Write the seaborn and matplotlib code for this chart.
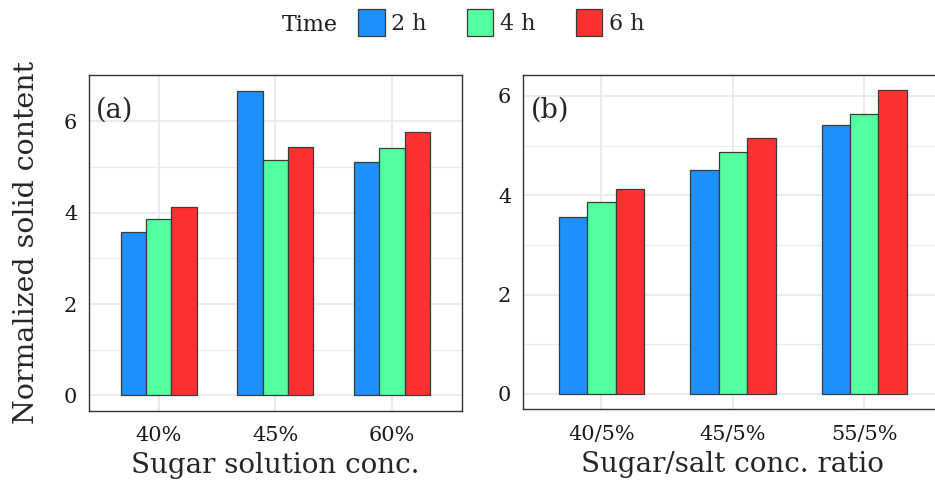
import matplotlib.pyplot as plt
import matplotlib.patches as mpatches
import pandas as pd
import seaborn as sns

# data
times = ["2 h", "4 h", "6 h"]
sugar_conc = ["40%", "45%", "60%"]
sugar_vals = {"2 h": [3.57, 6.67, 5.11],
              "4 h": [3.85, 5.14, 5.41],
              "6 h": [4.13, 5.44, 5.77]}
ratio_conc = ["40/5%", "45/5%", "55/5%"]
ratio_vals = {"2 h": [3.57, 4.50, 5.41],
              "4 h": [3.86, 4.88, 5.64],
              "6 h": [4.13, 5.15, 6.11]}
colors = ["#1E90FF", "#54FF9F", "#FF3030"]

sns.set_style("white")
plt.rcParams['font.family'] = ['DejaVu Serif']
GRID = "#EBEBEB"
DARK = "#333333"


def long_df(cats, vals):
    rows = []
    for t in times:
        for c, v in zip(cats, vals[t]):
            rows.append({"conc": c, "time": t, "value": v})
    return pd.DataFrame(rows)


def panel(ax, cats, vals, xlabel, tag, ylabel=None):
    df = long_df(cats, vals)
    ymax = df["value"].max()
    sns.barplot(data=df, x="conc", y="value", hue="time", hue_order=times,
                palette=colors, width=0.65, gap=0, edgecolor="#3a3a3a",
                linewidth=0.9, saturation=1, legend=False, ax=ax, zorder=2)
    ax.set_axisbelow(True)
    for y in [1, 3, 5]:
        ax.axhline(y, color=GRID, lw=0.8, zorder=0)
    ax.grid(True, which="major", axis="both", color=GRID, lw=1.4, zorder=0)
    ax.set_xlim(-0.6, 2.6)
    ax.set_ylim(-0.05 * ymax, ymax * 1.05)
    ax.set_yticks([0, 2, 4, 6])
    ax.tick_params(axis="both", length=4.3, width=0.9, color=DARK,
                   labelsize=15, labelcolor="#1a1a1a", pad=4)
    ax.tick_params(axis="x", pad=7)
    for s in ax.spines.values():
        s.set_color(DARK)
        s.set_linewidth(1.0)
    ax.set_xlabel(xlabel, fontsize=20, labelpad=5)
    ax.set_ylabel(ylabel if ylabel else "", fontsize=20.5, labelpad=17)
    ax.text(0.02, 0.897, tag, transform=ax.transAxes, fontsize=19.5,
            va="center", ha="left")


fig = plt.figure(figsize=(9.35, 4.88), dpi=100)
ax1 = fig.add_axes([0.0949, 0.1584, 0.3993, 0.6873])
ax2 = fig.add_axes([0.559, 0.1619, 0.4496, 0.6838])

panel(ax1, sugar_conc, sugar_vals, "Sugar solution conc.", "(a)",
      "Normalized solid content")
panel(ax2, ratio_conc, ratio_vals, "Sugar/salt conc. ratio", "(b)")
ax2.spines["right"].set_visible(False)

handles = [mpatches.Patch(facecolor=c, edgecolor="#3a3a3a", linewidth=0.9, label=t)
           for c, t in zip(colors, times)]
fig.legend(handles=handles, loc="center", bbox_to_anchor=(0.536, 0.953),
           ncol=3, frameon=False, fontsize=16, handlelength=1.2,
           handleheight=1.5, handletextpad=0.3, columnspacing=1.8,
           borderpad=0, borderaxespad=0)
fig.text(338 / 935, 0.953, "Time", fontsize=16, ha="right", va="center_baseline",
         color="#1a1a1a")

fig.savefig("out.png", dpi=100)
